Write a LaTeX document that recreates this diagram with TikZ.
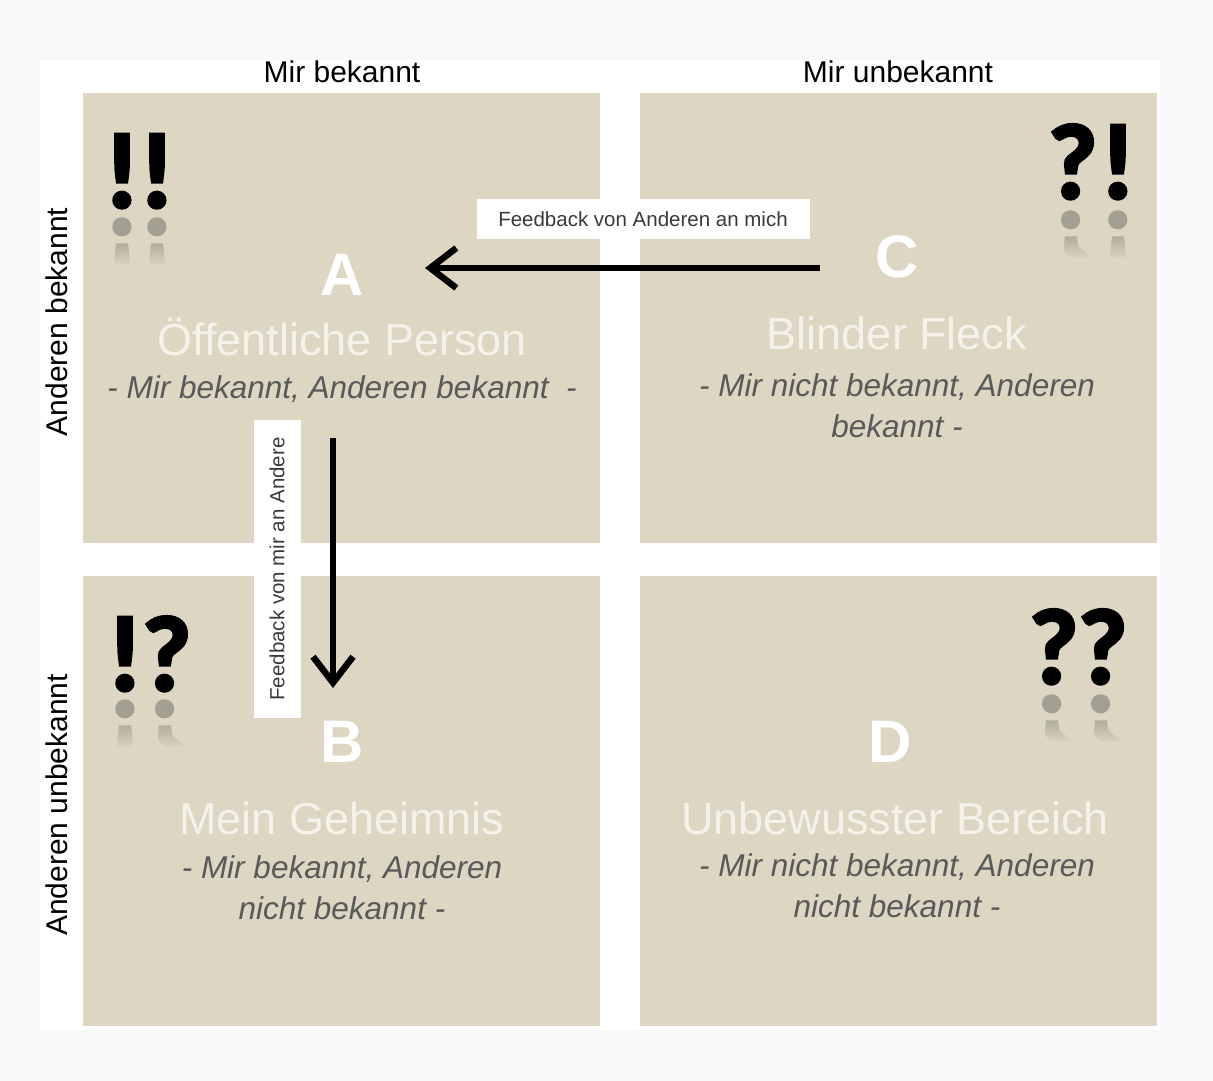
\documentclass[tikz,border=0pt]{standalone}
\usepackage{fontspec}
\setmainfont{Liberation Sans}
\newfontfamily\symfont[BoldFeatures={FakeBold=4}]{Lato}
\usetikzlibrary{arrows.meta,fadings}
\definecolor{quad}{HTML}{DCD6C3}
\definecolor{outerbg}{HTML}{F8F8F8}
\definecolor{subgray}{HTML}{595959}
\definecolor{titlewhite}{HTML}{F4F2EA}
\definecolor{reflgray}{HTML}{A3A093}
\definecolor{labelgray}{HTML}{3A3A3A}
% pair of glyphs, #1 = distance between centres
\newcommand{\glyphpair}[3]{\makebox[#1]{#2}\makebox[#1]{#3}}
\begin{document}
\begin{tikzpicture}[x=1pt,y=-1pt,
  quadbox/.style={fill=quad, draw=none, minimum width=517pt, minimum height=450pt, inner sep=0pt},
  axislabel/.style={font=\fontsize{30}{36}\selectfont, text=black, inner sep=0pt},
  bigletter/.style={font=\fontsize{60}{72}\selectfont\bfseries, text=white, anchor=base, inner sep=0pt},
  quadtitle/.style={font=\fontsize{45}{54}\selectfont, text=titlewhite, anchor=base, inner sep=0pt},
  quadsub/.style={font=\fontsize{31.5}{38}\selectfont\itshape, text=subgray, anchor=base, inner sep=0pt},
  symb/.style={font=\symfont\bfseries\fontsize{100}{100}\selectfont, anchor=base, inner sep=0pt, text=black},
  refl/.style={symb, text=reflgray},
  fadebox/.style={fill=quad, path fading=north},
  solidbox/.style={fill=quad},
  fbbox/.style={fill=white, draw=none, inner sep=0pt, text=labelgray, font=\fontsize{20.5}{24}\selectfont},
  fbarrow/.style={line width=6.5pt, draw=black, -{Straight Barb[length=26pt,width=40pt]}}
]
\fill[outerbg] (0,0) rectangle (1213,1081);
\useasboundingbox (0,0) rectangle (1213,1081);
\fill[white] (40,60) rectangle (1160,1030);

% quadrants
\node[quadbox] (qA) at (341.5,318) {};
\node[quadbox] (qC) at (898.5,318) {};
\node[quadbox] (qB) at (341.5,801) {};
\node[quadbox] (qD) at (898.5,801) {};

% axis labels
\node[axislabel, anchor=base] (lk1) at (342,83) {Mir bekannt};
\node[axislabel, anchor=base] (lk2) at (898,83) {Mir unbekannt};
\node[axislabel, rotate=90] (la1) at (57,322) {Anderen bekannt};
\node[axislabel, rotate=90] (la2) at (57,805) {Anderen unbekannt};

% quadrant A
\node[bigletter] (A) at (342,295) {A};
\node[quadtitle] (tA) at (342,355) {Öffentliche Person};
\node[quadsub] (sA) at (342,398) {- Mir bekannt, Anderen bekannt \ -};

% quadrant C
\node[bigletter] (C) at (897,277) {C};
\node[quadtitle] (tC) at (897,349) {Blinder Fleck};
\node[quadsub] (sC1) at (897,396) {- Mir nicht bekannt, Anderen};
\node[quadsub] (sC2) at (897,437) {bekannt -};

% quadrant B
\node[bigletter] (B) at (342,762) {B};
\node[quadtitle] (tB) at (342,834) {Mein Geheimnis};
\node[quadsub] (sB1) at (342,878) {- Mir bekannt, Anderen};
\node[quadsub] (sB2) at (342,919) {nicht bekannt -};

% quadrant D
\node[bigletter] (D) at (890,762) {D};
\node[quadtitle] (tD) at (895,834) {Unbewusster Bereich};
\node[quadsub] (sD1) at (897,876) {- Mir nicht bekannt, Anderen};
\node[quadsub] (sD2) at (897,917) {nicht bekannt -};

% symbols TL
\node[refl] (rTL) at (139.5,220) {\scalebox{1}[-1]{\glyphpair{35pt}{!}{!}}};
\fill[fadebox] (95,236) rectangle (190,266);
\fill[solidbox] (95,265) rectangle (190,300);
\node[symb] (sTL) at (139.5,207) {\glyphpair{35pt}{!}{!}};

% symbols TR
\node[refl] (rTR) at (1095.5,213) {\scalebox{1}[-1]{\glyphpair{45pt}{?}{!}}};
\fill[fadebox] (1040,229) rectangle (1145,259);
\fill[solidbox] (1040,258) rectangle (1145,295);
\node[symb] (sTR) at (1095.5,198) {\glyphpair{45pt}{?}{!}};

% symbols BL
\node[refl] (rBL) at (146,702) {\scalebox{1}[-1]{\glyphpair{42pt}{!}{?}}};
\fill[fadebox] (100,718) rectangle (200,748);
\fill[solidbox] (100,747) rectangle (200,785);
\node[symb] (sBL) at (146,690) {\glyphpair{42pt}{!}{?}};

% symbols BR
\node[refl] (rBR) at (1078.5,697) {\scalebox{1}[-1]{\glyphpair{49pt}{?}{?}}};
\fill[fadebox] (1025,713) rectangle (1135,743);
\fill[solidbox] (1025,742) rectangle (1135,780);
\node[symb] (sBR) at (1078.5,683) {\glyphpair{49pt}{?}{?}};

% feedback labels
\node[fbbox, minimum width=333pt, minimum height=40pt] (fb1) at (643,219) {Feedback von Anderen an mich};
\node[fbbox, rotate=90, minimum width=298pt, minimum height=47pt] (fb2) at (277,569) {Feedback von mir an Andere};

% arrows
\coordinate (h1) at (820,268);
\coordinate (h2) at (425,268);
\coordinate (v1) at (333,438);
\coordinate (v2) at (333,688);
\draw[fbarrow] (h1) -- (h2);
\draw[fbarrow] (v1) -- (v2);
\end{tikzpicture}
\end{document}
